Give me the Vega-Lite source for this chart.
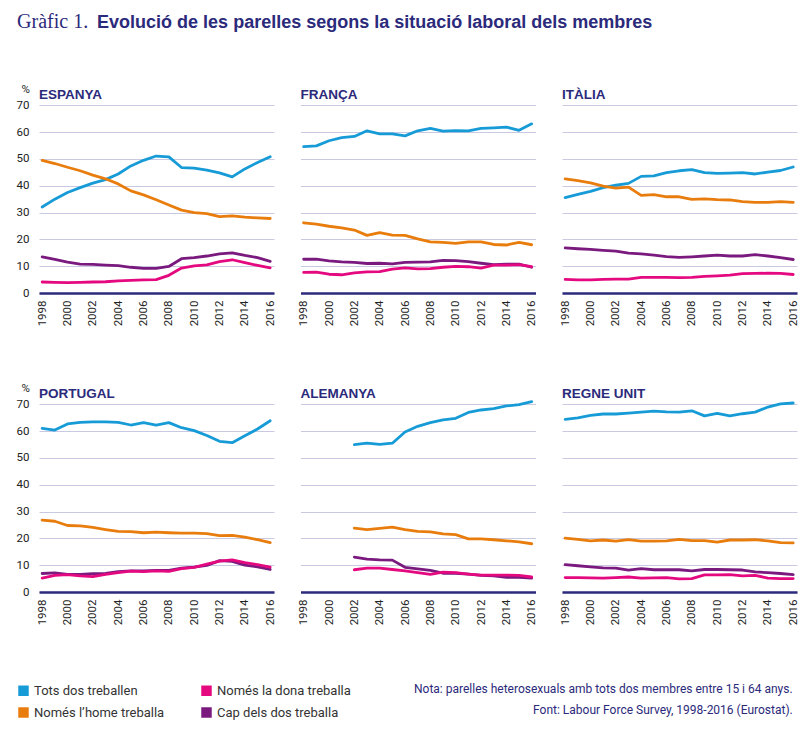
{
  "$schema": "https://vega.github.io/schema/vega-lite/v6.json",
  "padding": {"left": 16, "top": 12, "right": 0, "bottom": 0},
  "background": "white",
  "title": {
    "text": "Gràfic 1.",
    "subtitle": "\u200b\u00a0\u00a0\u00a0\u00a0\u00a0\u00a0\u00a0\u00a0\u00a0\u00a0\u00a0\u00a0\u00a0\u00a0\u00a0\u00a0Evolució de les parelles segons la situació laboral dels membres",
    "anchor": "start",
    "frame": "bounds",
    "dx": 1,
    "dy": -2,
    "offset": 49,
    "font": "Liberation Serif",
    "fontSize": 20,
    "fontWeight": "normal",
    "color": "#2b2a7b",
    "subtitleFont": "Liberation Sans",
    "subtitleFontSize": 18,
    "subtitleFontWeight": "bold",
    "subtitleColor": "#2b2a7b",
    "subtitlePadding": -18.5
  },
  "data": {
    "values": [
      {"pais": "ESPANYA", "any": 1998, "grup": "Tots dos treballen", "pct": 32.1},
      {"pais": "ESPANYA", "any": 1999, "grup": "Tots dos treballen", "pct": 35.0},
      {"pais": "ESPANYA", "any": 2000, "grup": "Tots dos treballen", "pct": 37.5},
      {"pais": "ESPANYA", "any": 2001, "grup": "Tots dos treballen", "pct": 39.3},
      {"pais": "ESPANYA", "any": 2002, "grup": "Tots dos treballen", "pct": 41.0},
      {"pais": "ESPANYA", "any": 2003, "grup": "Tots dos treballen", "pct": 42.3},
      {"pais": "ESPANYA", "any": 2004, "grup": "Tots dos treballen", "pct": 44.4},
      {"pais": "ESPANYA", "any": 2005, "grup": "Tots dos treballen", "pct": 47.4},
      {"pais": "ESPANYA", "any": 2006, "grup": "Tots dos treballen", "pct": 49.5},
      {"pais": "ESPANYA", "any": 2007, "grup": "Tots dos treballen", "pct": 51.1},
      {"pais": "ESPANYA", "any": 2008, "grup": "Tots dos treballen", "pct": 50.8},
      {"pais": "ESPANYA", "any": 2009, "grup": "Tots dos treballen", "pct": 46.8},
      {"pais": "ESPANYA", "any": 2010, "grup": "Tots dos treballen", "pct": 46.6},
      {"pais": "ESPANYA", "any": 2011, "grup": "Tots dos treballen", "pct": 45.8},
      {"pais": "ESPANYA", "any": 2012, "grup": "Tots dos treballen", "pct": 44.8},
      {"pais": "ESPANYA", "any": 2013, "grup": "Tots dos treballen", "pct": 43.3},
      {"pais": "ESPANYA", "any": 2014, "grup": "Tots dos treballen", "pct": 46.3},
      {"pais": "ESPANYA", "any": 2015, "grup": "Tots dos treballen", "pct": 48.7},
      {"pais": "ESPANYA", "any": 2016, "grup": "Tots dos treballen", "pct": 50.8},
      {"pais": "ESPANYA", "any": 1998, "grup": "Només l’home treballa", "pct": 49.5},
      {"pais": "ESPANYA", "any": 1999, "grup": "Només l’home treballa", "pct": 48.3},
      {"pais": "ESPANYA", "any": 2000, "grup": "Només l’home treballa", "pct": 46.9},
      {"pais": "ESPANYA", "any": 2001, "grup": "Només l’home treballa", "pct": 45.6},
      {"pais": "ESPANYA", "any": 2002, "grup": "Només l’home treballa", "pct": 44.0},
      {"pais": "ESPANYA", "any": 2003, "grup": "Només l’home treballa", "pct": 42.6},
      {"pais": "ESPANYA", "any": 2004, "grup": "Només l’home treballa", "pct": 40.7},
      {"pais": "ESPANYA", "any": 2005, "grup": "Només l’home treballa", "pct": 38.1},
      {"pais": "ESPANYA", "any": 2006, "grup": "Només l’home treballa", "pct": 36.6},
      {"pais": "ESPANYA", "any": 2007, "grup": "Només l’home treballa", "pct": 34.8},
      {"pais": "ESPANYA", "any": 2008, "grup": "Només l’home treballa", "pct": 32.8},
      {"pais": "ESPANYA", "any": 2009, "grup": "Només l’home treballa", "pct": 30.9},
      {"pais": "ESPANYA", "any": 2010, "grup": "Només l’home treballa", "pct": 30.0},
      {"pais": "ESPANYA", "any": 2011, "grup": "Només l’home treballa", "pct": 29.6},
      {"pais": "ESPANYA", "any": 2012, "grup": "Només l’home treballa", "pct": 28.5},
      {"pais": "ESPANYA", "any": 2013, "grup": "Només l’home treballa", "pct": 28.8},
      {"pais": "ESPANYA", "any": 2014, "grup": "Només l’home treballa", "pct": 28.3},
      {"pais": "ESPANYA", "any": 2015, "grup": "Només l’home treballa", "pct": 28.0},
      {"pais": "ESPANYA", "any": 2016, "grup": "Només l’home treballa", "pct": 27.8},
      {"pais": "ESPANYA", "any": 1998, "grup": "Cap dels dos treballa", "pct": 13.5},
      {"pais": "ESPANYA", "any": 1999, "grup": "Cap dels dos treballa", "pct": 12.5},
      {"pais": "ESPANYA", "any": 2000, "grup": "Cap dels dos treballa", "pct": 11.5},
      {"pais": "ESPANYA", "any": 2001, "grup": "Cap dels dos treballa", "pct": 10.8},
      {"pais": "ESPANYA", "any": 2002, "grup": "Cap dels dos treballa", "pct": 10.7},
      {"pais": "ESPANYA", "any": 2003, "grup": "Cap dels dos treballa", "pct": 10.4},
      {"pais": "ESPANYA", "any": 2004, "grup": "Cap dels dos treballa", "pct": 10.2},
      {"pais": "ESPANYA", "any": 2005, "grup": "Cap dels dos treballa", "pct": 9.6},
      {"pais": "ESPANYA", "any": 2006, "grup": "Cap dels dos treballa", "pct": 9.2},
      {"pais": "ESPANYA", "any": 2007, "grup": "Cap dels dos treballa", "pct": 9.2},
      {"pais": "ESPANYA", "any": 2008, "grup": "Cap dels dos treballa", "pct": 9.9},
      {"pais": "ESPANYA", "any": 2009, "grup": "Cap dels dos treballa", "pct": 12.8},
      {"pais": "ESPANYA", "any": 2010, "grup": "Cap dels dos treballa", "pct": 13.2},
      {"pais": "ESPANYA", "any": 2011, "grup": "Cap dels dos treballa", "pct": 13.8},
      {"pais": "ESPANYA", "any": 2012, "grup": "Cap dels dos treballa", "pct": 14.6},
      {"pais": "ESPANYA", "any": 2013, "grup": "Cap dels dos treballa", "pct": 15.0},
      {"pais": "ESPANYA", "any": 2014, "grup": "Cap dels dos treballa", "pct": 14.0},
      {"pais": "ESPANYA", "any": 2015, "grup": "Cap dels dos treballa", "pct": 13.2},
      {"pais": "ESPANYA", "any": 2016, "grup": "Cap dels dos treballa", "pct": 11.8},
      {"pais": "ESPANYA", "any": 1998, "grup": "Només la dona treballa", "pct": 4.1},
      {"pais": "ESPANYA", "any": 1999, "grup": "Només la dona treballa", "pct": 4.0},
      {"pais": "ESPANYA", "any": 2000, "grup": "Només la dona treballa", "pct": 3.9},
      {"pais": "ESPANYA", "any": 2001, "grup": "Només la dona treballa", "pct": 4.0},
      {"pais": "ESPANYA", "any": 2002, "grup": "Només la dona treballa", "pct": 4.1},
      {"pais": "ESPANYA", "any": 2003, "grup": "Només la dona treballa", "pct": 4.2},
      {"pais": "ESPANYA", "any": 2004, "grup": "Només la dona treballa", "pct": 4.5},
      {"pais": "ESPANYA", "any": 2005, "grup": "Només la dona treballa", "pct": 4.7},
      {"pais": "ESPANYA", "any": 2006, "grup": "Només la dona treballa", "pct": 4.9},
      {"pais": "ESPANYA", "any": 2007, "grup": "Només la dona treballa", "pct": 5.0},
      {"pais": "ESPANYA", "any": 2008, "grup": "Només la dona treballa", "pct": 6.6},
      {"pais": "ESPANYA", "any": 2009, "grup": "Només la dona treballa", "pct": 9.3},
      {"pais": "ESPANYA", "any": 2010, "grup": "Només la dona treballa", "pct": 10.1},
      {"pais": "ESPANYA", "any": 2011, "grup": "Només la dona treballa", "pct": 10.5},
      {"pais": "ESPANYA", "any": 2012, "grup": "Només la dona treballa", "pct": 11.7},
      {"pais": "ESPANYA", "any": 2013, "grup": "Només la dona treballa", "pct": 12.4},
      {"pais": "ESPANYA", "any": 2014, "grup": "Només la dona treballa", "pct": 11.3},
      {"pais": "ESPANYA", "any": 2015, "grup": "Només la dona treballa", "pct": 10.3},
      {"pais": "ESPANYA", "any": 2016, "grup": "Només la dona treballa", "pct": 9.4},

      {"pais": "FRANÇA", "any": 1998, "grup": "Tots dos treballen", "pct": 54.6},
      {"pais": "FRANÇA", "any": 1999, "grup": "Tots dos treballen", "pct": 54.9},
      {"pais": "FRANÇA", "any": 2000, "grup": "Tots dos treballen", "pct": 56.8},
      {"pais": "FRANÇA", "any": 2001, "grup": "Tots dos treballen", "pct": 58.0},
      {"pais": "FRANÇA", "any": 2002, "grup": "Tots dos treballen", "pct": 58.4},
      {"pais": "FRANÇA", "any": 2003, "grup": "Tots dos treballen", "pct": 60.5},
      {"pais": "FRANÇA", "any": 2004, "grup": "Tots dos treballen", "pct": 59.4},
      {"pais": "FRANÇA", "any": 2005, "grup": "Tots dos treballen", "pct": 59.4},
      {"pais": "FRANÇA", "any": 2006, "grup": "Tots dos treballen", "pct": 58.6},
      {"pais": "FRANÇA", "any": 2007, "grup": "Tots dos treballen", "pct": 60.5},
      {"pais": "FRANÇA", "any": 2008, "grup": "Tots dos treballen", "pct": 61.4},
      {"pais": "FRANÇA", "any": 2009, "grup": "Tots dos treballen", "pct": 60.4},
      {"pais": "FRANÇA", "any": 2010, "grup": "Tots dos treballen", "pct": 60.6},
      {"pais": "FRANÇA", "any": 2011, "grup": "Tots dos treballen", "pct": 60.5},
      {"pais": "FRANÇA", "any": 2012, "grup": "Tots dos treballen", "pct": 61.4},
      {"pais": "FRANÇA", "any": 2013, "grup": "Tots dos treballen", "pct": 61.6},
      {"pais": "FRANÇA", "any": 2014, "grup": "Tots dos treballen", "pct": 61.9},
      {"pais": "FRANÇA", "any": 2015, "grup": "Tots dos treballen", "pct": 60.7},
      {"pais": "FRANÇA", "any": 2016, "grup": "Tots dos treballen", "pct": 63.1},
      {"pais": "FRANÇA", "any": 1998, "grup": "Només l’home treballa", "pct": 26.2},
      {"pais": "FRANÇA", "any": 1999, "grup": "Només l’home treballa", "pct": 25.7},
      {"pais": "FRANÇA", "any": 2000, "grup": "Només l’home treballa", "pct": 24.9},
      {"pais": "FRANÇA", "any": 2001, "grup": "Només l’home treballa", "pct": 24.3},
      {"pais": "FRANÇA", "any": 2002, "grup": "Només l’home treballa", "pct": 23.5},
      {"pais": "FRANÇA", "any": 2003, "grup": "Només l’home treballa", "pct": 21.5},
      {"pais": "FRANÇA", "any": 2004, "grup": "Només l’home treballa", "pct": 22.5},
      {"pais": "FRANÇA", "any": 2005, "grup": "Només l’home treballa", "pct": 21.6},
      {"pais": "FRANÇA", "any": 2006, "grup": "Només l’home treballa", "pct": 21.5},
      {"pais": "FRANÇA", "any": 2007, "grup": "Només l’home treballa", "pct": 20.2},
      {"pais": "FRANÇA", "any": 2008, "grup": "Només l’home treballa", "pct": 19.1},
      {"pais": "FRANÇA", "any": 2009, "grup": "Només l’home treballa", "pct": 18.9},
      {"pais": "FRANÇA", "any": 2010, "grup": "Només l’home treballa", "pct": 18.5},
      {"pais": "FRANÇA", "any": 2011, "grup": "Només l’home treballa", "pct": 19.1},
      {"pais": "FRANÇA", "any": 2012, "grup": "Només l’home treballa", "pct": 19.1},
      {"pais": "FRANÇA", "any": 2013, "grup": "Només l’home treballa", "pct": 18.1},
      {"pais": "FRANÇA", "any": 2014, "grup": "Només l’home treballa", "pct": 17.9},
      {"pais": "FRANÇA", "any": 2015, "grup": "Només l’home treballa", "pct": 18.9},
      {"pais": "FRANÇA", "any": 2016, "grup": "Només l’home treballa", "pct": 18.0},
      {"pais": "FRANÇA", "any": 1998, "grup": "Cap dels dos treballa", "pct": 12.6},
      {"pais": "FRANÇA", "any": 1999, "grup": "Cap dels dos treballa", "pct": 12.6},
      {"pais": "FRANÇA", "any": 2000, "grup": "Cap dels dos treballa", "pct": 12.0},
      {"pais": "FRANÇA", "any": 2001, "grup": "Cap dels dos treballa", "pct": 11.6},
      {"pais": "FRANÇA", "any": 2002, "grup": "Cap dels dos treballa", "pct": 11.4},
      {"pais": "FRANÇA", "any": 2003, "grup": "Cap dels dos treballa", "pct": 11.0},
      {"pais": "FRANÇA", "any": 2004, "grup": "Cap dels dos treballa", "pct": 11.1},
      {"pais": "FRANÇA", "any": 2005, "grup": "Cap dels dos treballa", "pct": 10.9},
      {"pais": "FRANÇA", "any": 2006, "grup": "Cap dels dos treballa", "pct": 11.4},
      {"pais": "FRANÇA", "any": 2007, "grup": "Cap dels dos treballa", "pct": 11.5},
      {"pais": "FRANÇA", "any": 2008, "grup": "Cap dels dos treballa", "pct": 11.6},
      {"pais": "FRANÇA", "any": 2009, "grup": "Cap dels dos treballa", "pct": 12.2},
      {"pais": "FRANÇA", "any": 2010, "grup": "Cap dels dos treballa", "pct": 12.1},
      {"pais": "FRANÇA", "any": 2011, "grup": "Cap dels dos treballa", "pct": 11.7},
      {"pais": "FRANÇA", "any": 2012, "grup": "Cap dels dos treballa", "pct": 11.1},
      {"pais": "FRANÇA", "any": 2013, "grup": "Cap dels dos treballa", "pct": 10.6},
      {"pais": "FRANÇA", "any": 2014, "grup": "Cap dels dos treballa", "pct": 10.8},
      {"pais": "FRANÇA", "any": 2015, "grup": "Cap dels dos treballa", "pct": 10.8},
      {"pais": "FRANÇA", "any": 2016, "grup": "Cap dels dos treballa", "pct": 9.6},
      {"pais": "FRANÇA", "any": 1998, "grup": "Només la dona treballa", "pct": 7.7},
      {"pais": "FRANÇA", "any": 1999, "grup": "Només la dona treballa", "pct": 7.8},
      {"pais": "FRANÇA", "any": 2000, "grup": "Només la dona treballa", "pct": 7.0},
      {"pais": "FRANÇA", "any": 2001, "grup": "Només la dona treballa", "pct": 6.8},
      {"pais": "FRANÇA", "any": 2002, "grup": "Només la dona treballa", "pct": 7.5},
      {"pais": "FRANÇA", "any": 2003, "grup": "Només la dona treballa", "pct": 7.9},
      {"pais": "FRANÇA", "any": 2004, "grup": "Només la dona treballa", "pct": 8.0},
      {"pais": "FRANÇA", "any": 2005, "grup": "Només la dona treballa", "pct": 8.9},
      {"pais": "FRANÇA", "any": 2006, "grup": "Només la dona treballa", "pct": 9.4},
      {"pais": "FRANÇA", "any": 2007, "grup": "Només la dona treballa", "pct": 9.0},
      {"pais": "FRANÇA", "any": 2008, "grup": "Només la dona treballa", "pct": 9.1},
      {"pais": "FRANÇA", "any": 2009, "grup": "Només la dona treballa", "pct": 9.6},
      {"pais": "FRANÇA", "any": 2010, "grup": "Només la dona treballa", "pct": 9.9},
      {"pais": "FRANÇA", "any": 2011, "grup": "Només la dona treballa", "pct": 9.8},
      {"pais": "FRANÇA", "any": 2012, "grup": "Només la dona treballa", "pct": 9.3},
      {"pais": "FRANÇA", "any": 2013, "grup": "Només la dona treballa", "pct": 10.4},
      {"pais": "FRANÇA", "any": 2014, "grup": "Només la dona treballa", "pct": 10.4},
      {"pais": "FRANÇA", "any": 2015, "grup": "Només la dona treballa", "pct": 10.6},
      {"pais": "FRANÇA", "any": 2016, "grup": "Només la dona treballa", "pct": 9.8},

      {"pais": "ITÀLIA", "any": 1998, "grup": "Tots dos treballen", "pct": 35.6},
      {"pais": "ITÀLIA", "any": 1999, "grup": "Tots dos treballen", "pct": 36.8},
      {"pais": "ITÀLIA", "any": 2000, "grup": "Tots dos treballen", "pct": 37.9},
      {"pais": "ITÀLIA", "any": 2001, "grup": "Tots dos treballen", "pct": 39.3},
      {"pais": "ITÀLIA", "any": 2002, "grup": "Tots dos treballen", "pct": 40.2},
      {"pais": "ITÀLIA", "any": 2003, "grup": "Tots dos treballen", "pct": 40.9},
      {"pais": "ITÀLIA", "any": 2004, "grup": "Tots dos treballen", "pct": 43.5},
      {"pais": "ITÀLIA", "any": 2005, "grup": "Tots dos treballen", "pct": 43.7},
      {"pais": "ITÀLIA", "any": 2006, "grup": "Tots dos treballen", "pct": 44.9},
      {"pais": "ITÀLIA", "any": 2007, "grup": "Tots dos treballen", "pct": 45.6},
      {"pais": "ITÀLIA", "any": 2008, "grup": "Tots dos treballen", "pct": 46.0},
      {"pais": "ITÀLIA", "any": 2009, "grup": "Tots dos treballen", "pct": 44.9},
      {"pais": "ITÀLIA", "any": 2010, "grup": "Tots dos treballen", "pct": 44.6},
      {"pais": "ITÀLIA", "any": 2011, "grup": "Tots dos treballen", "pct": 44.7},
      {"pais": "ITÀLIA", "any": 2012, "grup": "Tots dos treballen", "pct": 44.9},
      {"pais": "ITÀLIA", "any": 2013, "grup": "Tots dos treballen", "pct": 44.4},
      {"pais": "ITÀLIA", "any": 2014, "grup": "Tots dos treballen", "pct": 45.1},
      {"pais": "ITÀLIA", "any": 2015, "grup": "Tots dos treballen", "pct": 45.7},
      {"pais": "ITÀLIA", "any": 2016, "grup": "Tots dos treballen", "pct": 47.0},
      {"pais": "ITÀLIA", "any": 1998, "grup": "Només l’home treballa", "pct": 42.6},
      {"pais": "ITÀLIA", "any": 1999, "grup": "Només l’home treballa", "pct": 41.9},
      {"pais": "ITÀLIA", "any": 2000, "grup": "Només l’home treballa", "pct": 41.1},
      {"pais": "ITÀLIA", "any": 2001, "grup": "Només l’home treballa", "pct": 39.9},
      {"pais": "ITÀLIA", "any": 2002, "grup": "Només l’home treballa", "pct": 39.1},
      {"pais": "ITÀLIA", "any": 2003, "grup": "Només l’home treballa", "pct": 39.5},
      {"pais": "ITÀLIA", "any": 2004, "grup": "Només l’home treballa", "pct": 36.4},
      {"pais": "ITÀLIA", "any": 2005, "grup": "Només l’home treballa", "pct": 36.7},
      {"pais": "ITÀLIA", "any": 2006, "grup": "Només l’home treballa", "pct": 35.9},
      {"pais": "ITÀLIA", "any": 2007, "grup": "Només l’home treballa", "pct": 35.9},
      {"pais": "ITÀLIA", "any": 2008, "grup": "Només l’home treballa", "pct": 34.9},
      {"pais": "ITÀLIA", "any": 2009, "grup": "Només l’home treballa", "pct": 35.1},
      {"pais": "ITÀLIA", "any": 2010, "grup": "Només l’home treballa", "pct": 34.8},
      {"pais": "ITÀLIA", "any": 2011, "grup": "Només l’home treballa", "pct": 34.7},
      {"pais": "ITÀLIA", "any": 2012, "grup": "Només l’home treballa", "pct": 34.1},
      {"pais": "ITÀLIA", "any": 2013, "grup": "Només l’home treballa", "pct": 33.8},
      {"pais": "ITÀLIA", "any": 2014, "grup": "Només l’home treballa", "pct": 33.8},
      {"pais": "ITÀLIA", "any": 2015, "grup": "Només l’home treballa", "pct": 34.1},
      {"pais": "ITÀLIA", "any": 2016, "grup": "Només l’home treballa", "pct": 33.8},
      {"pais": "ITÀLIA", "any": 1998, "grup": "Cap dels dos treballa", "pct": 16.8},
      {"pais": "ITÀLIA", "any": 1999, "grup": "Cap dels dos treballa", "pct": 16.5},
      {"pais": "ITÀLIA", "any": 2000, "grup": "Cap dels dos treballa", "pct": 16.3},
      {"pais": "ITÀLIA", "any": 2001, "grup": "Cap dels dos treballa", "pct": 15.9},
      {"pais": "ITÀLIA", "any": 2002, "grup": "Cap dels dos treballa", "pct": 15.6},
      {"pais": "ITÀLIA", "any": 2003, "grup": "Cap dels dos treballa", "pct": 14.9},
      {"pais": "ITÀLIA", "any": 2004, "grup": "Cap dels dos treballa", "pct": 14.6},
      {"pais": "ITÀLIA", "any": 2005, "grup": "Cap dels dos treballa", "pct": 14.1},
      {"pais": "ITÀLIA", "any": 2006, "grup": "Cap dels dos treballa", "pct": 13.6},
      {"pais": "ITÀLIA", "any": 2007, "grup": "Cap dels dos treballa", "pct": 13.3},
      {"pais": "ITÀLIA", "any": 2008, "grup": "Cap dels dos treballa", "pct": 13.5},
      {"pais": "ITÀLIA", "any": 2009, "grup": "Cap dels dos treballa", "pct": 13.8},
      {"pais": "ITÀLIA", "any": 2010, "grup": "Cap dels dos treballa", "pct": 14.1},
      {"pais": "ITÀLIA", "any": 2011, "grup": "Cap dels dos treballa", "pct": 13.8},
      {"pais": "ITÀLIA", "any": 2012, "grup": "Cap dels dos treballa", "pct": 13.8},
      {"pais": "ITÀLIA", "any": 2013, "grup": "Cap dels dos treballa", "pct": 14.3},
      {"pais": "ITÀLIA", "any": 2014, "grup": "Cap dels dos treballa", "pct": 13.8},
      {"pais": "ITÀLIA", "any": 2015, "grup": "Cap dels dos treballa", "pct": 13.2},
      {"pais": "ITÀLIA", "any": 2016, "grup": "Cap dels dos treballa", "pct": 12.5},
      {"pais": "ITÀLIA", "any": 1998, "grup": "Només la dona treballa", "pct": 5.1},
      {"pais": "ITÀLIA", "any": 1999, "grup": "Només la dona treballa", "pct": 4.9},
      {"pais": "ITÀLIA", "any": 2000, "grup": "Només la dona treballa", "pct": 4.9},
      {"pais": "ITÀLIA", "any": 2001, "grup": "Només la dona treballa", "pct": 5.1},
      {"pais": "ITÀLIA", "any": 2002, "grup": "Només la dona treballa", "pct": 5.2},
      {"pais": "ITÀLIA", "any": 2003, "grup": "Només la dona treballa", "pct": 5.2},
      {"pais": "ITÀLIA", "any": 2004, "grup": "Només la dona treballa", "pct": 5.8},
      {"pais": "ITÀLIA", "any": 2005, "grup": "Només la dona treballa", "pct": 5.8},
      {"pais": "ITÀLIA", "any": 2006, "grup": "Només la dona treballa", "pct": 5.8},
      {"pais": "ITÀLIA", "any": 2007, "grup": "Només la dona treballa", "pct": 5.7},
      {"pais": "ITÀLIA", "any": 2008, "grup": "Només la dona treballa", "pct": 5.8},
      {"pais": "ITÀLIA", "any": 2009, "grup": "Només la dona treballa", "pct": 6.2},
      {"pais": "ITÀLIA", "any": 2010, "grup": "Només la dona treballa", "pct": 6.4},
      {"pais": "ITÀLIA", "any": 2011, "grup": "Només la dona treballa", "pct": 6.7},
      {"pais": "ITÀLIA", "any": 2012, "grup": "Només la dona treballa", "pct": 7.2},
      {"pais": "ITÀLIA", "any": 2013, "grup": "Només la dona treballa", "pct": 7.3},
      {"pais": "ITÀLIA", "any": 2014, "grup": "Només la dona treballa", "pct": 7.4},
      {"pais": "ITÀLIA", "any": 2015, "grup": "Només la dona treballa", "pct": 7.3},
      {"pais": "ITÀLIA", "any": 2016, "grup": "Només la dona treballa", "pct": 6.9},

      {"pais": "PORTUGAL", "any": 1998, "grup": "Tots dos treballen", "pct": 61.0},
      {"pais": "PORTUGAL", "any": 1999, "grup": "Tots dos treballen", "pct": 60.4},
      {"pais": "PORTUGAL", "any": 2000, "grup": "Tots dos treballen", "pct": 62.7},
      {"pais": "PORTUGAL", "any": 2001, "grup": "Tots dos treballen", "pct": 63.3},
      {"pais": "PORTUGAL", "any": 2002, "grup": "Tots dos treballen", "pct": 63.5},
      {"pais": "PORTUGAL", "any": 2003, "grup": "Tots dos treballen", "pct": 63.5},
      {"pais": "PORTUGAL", "any": 2004, "grup": "Tots dos treballen", "pct": 63.3},
      {"pais": "PORTUGAL", "any": 2005, "grup": "Tots dos treballen", "pct": 62.3},
      {"pais": "PORTUGAL", "any": 2006, "grup": "Tots dos treballen", "pct": 63.2},
      {"pais": "PORTUGAL", "any": 2007, "grup": "Tots dos treballen", "pct": 62.3},
      {"pais": "PORTUGAL", "any": 2008, "grup": "Tots dos treballen", "pct": 63.2},
      {"pais": "PORTUGAL", "any": 2009, "grup": "Tots dos treballen", "pct": 61.3},
      {"pais": "PORTUGAL", "any": 2010, "grup": "Tots dos treballen", "pct": 60.2},
      {"pais": "PORTUGAL", "any": 2011, "grup": "Tots dos treballen", "pct": 58.4},
      {"pais": "PORTUGAL", "any": 2012, "grup": "Tots dos treballen", "pct": 56.2},
      {"pais": "PORTUGAL", "any": 2013, "grup": "Tots dos treballen", "pct": 55.7},
      {"pais": "PORTUGAL", "any": 2014, "grup": "Tots dos treballen", "pct": 58.3},
      {"pais": "PORTUGAL", "any": 2015, "grup": "Tots dos treballen", "pct": 60.8},
      {"pais": "PORTUGAL", "any": 2016, "grup": "Tots dos treballen", "pct": 63.9},
      {"pais": "PORTUGAL", "any": 1998, "grup": "Només l’home treballa", "pct": 26.8},
      {"pais": "PORTUGAL", "any": 1999, "grup": "Només l’home treballa", "pct": 26.4},
      {"pais": "PORTUGAL", "any": 2000, "grup": "Només l’home treballa", "pct": 24.8},
      {"pais": "PORTUGAL", "any": 2001, "grup": "Només l’home treballa", "pct": 24.7},
      {"pais": "PORTUGAL", "any": 2002, "grup": "Només l’home treballa", "pct": 24.1},
      {"pais": "PORTUGAL", "any": 2003, "grup": "Només l’home treballa", "pct": 23.3},
      {"pais": "PORTUGAL", "any": 2004, "grup": "Només l’home treballa", "pct": 22.6},
      {"pais": "PORTUGAL", "any": 2005, "grup": "Només l’home treballa", "pct": 22.5},
      {"pais": "PORTUGAL", "any": 2006, "grup": "Només l’home treballa", "pct": 22.1},
      {"pais": "PORTUGAL", "any": 2007, "grup": "Només l’home treballa", "pct": 22.3},
      {"pais": "PORTUGAL", "any": 2008, "grup": "Només l’home treballa", "pct": 22.1},
      {"pais": "PORTUGAL", "any": 2009, "grup": "Només l’home treballa", "pct": 22.0},
      {"pais": "PORTUGAL", "any": 2010, "grup": "Només l’home treballa", "pct": 22.0},
      {"pais": "PORTUGAL", "any": 2011, "grup": "Només l’home treballa", "pct": 21.8},
      {"pais": "PORTUGAL", "any": 2012, "grup": "Només l’home treballa", "pct": 21.0},
      {"pais": "PORTUGAL", "any": 2013, "grup": "Només l’home treballa", "pct": 21.1},
      {"pais": "PORTUGAL", "any": 2014, "grup": "Només l’home treballa", "pct": 20.5},
      {"pais": "PORTUGAL", "any": 2015, "grup": "Només l’home treballa", "pct": 19.5},
      {"pais": "PORTUGAL", "any": 2016, "grup": "Només l’home treballa", "pct": 18.4},
      {"pais": "PORTUGAL", "any": 1998, "grup": "Cap dels dos treballa", "pct": 6.9},
      {"pais": "PORTUGAL", "any": 1999, "grup": "Cap dels dos treballa", "pct": 7.1},
      {"pais": "PORTUGAL", "any": 2000, "grup": "Cap dels dos treballa", "pct": 6.6},
      {"pais": "PORTUGAL", "any": 2001, "grup": "Cap dels dos treballa", "pct": 6.6},
      {"pais": "PORTUGAL", "any": 2002, "grup": "Cap dels dos treballa", "pct": 6.8},
      {"pais": "PORTUGAL", "any": 2003, "grup": "Cap dels dos treballa", "pct": 6.9},
      {"pais": "PORTUGAL", "any": 2004, "grup": "Cap dels dos treballa", "pct": 7.6},
      {"pais": "PORTUGAL", "any": 2005, "grup": "Cap dels dos treballa", "pct": 7.9},
      {"pais": "PORTUGAL", "any": 2006, "grup": "Cap dels dos treballa", "pct": 7.9},
      {"pais": "PORTUGAL", "any": 2007, "grup": "Cap dels dos treballa", "pct": 8.1},
      {"pais": "PORTUGAL", "any": 2008, "grup": "Cap dels dos treballa", "pct": 8.1},
      {"pais": "PORTUGAL", "any": 2009, "grup": "Cap dels dos treballa", "pct": 8.9},
      {"pais": "PORTUGAL", "any": 2010, "grup": "Cap dels dos treballa", "pct": 9.3},
      {"pais": "PORTUGAL", "any": 2011, "grup": "Cap dels dos treballa", "pct": 9.9},
      {"pais": "PORTUGAL", "any": 2012, "grup": "Cap dels dos treballa", "pct": 11.7},
      {"pais": "PORTUGAL", "any": 2013, "grup": "Cap dels dos treballa", "pct": 11.4},
      {"pais": "PORTUGAL", "any": 2014, "grup": "Cap dels dos treballa", "pct": 10.0},
      {"pais": "PORTUGAL", "any": 2015, "grup": "Cap dels dos treballa", "pct": 9.4},
      {"pais": "PORTUGAL", "any": 2016, "grup": "Cap dels dos treballa", "pct": 8.4},
      {"pais": "PORTUGAL", "any": 1998, "grup": "Només la dona treballa", "pct": 5.2},
      {"pais": "PORTUGAL", "any": 1999, "grup": "Només la dona treballa", "pct": 6.2},
      {"pais": "PORTUGAL", "any": 2000, "grup": "Només la dona treballa", "pct": 6.5},
      {"pais": "PORTUGAL", "any": 2001, "grup": "Només la dona treballa", "pct": 6.0},
      {"pais": "PORTUGAL", "any": 2002, "grup": "Només la dona treballa", "pct": 5.7},
      {"pais": "PORTUGAL", "any": 2003, "grup": "Només la dona treballa", "pct": 6.6},
      {"pais": "PORTUGAL", "any": 2004, "grup": "Només la dona treballa", "pct": 7.2},
      {"pais": "PORTUGAL", "any": 2005, "grup": "Només la dona treballa", "pct": 7.8},
      {"pais": "PORTUGAL", "any": 2006, "grup": "Només la dona treballa", "pct": 7.6},
      {"pais": "PORTUGAL", "any": 2007, "grup": "Només la dona treballa", "pct": 7.9},
      {"pais": "PORTUGAL", "any": 2008, "grup": "Només la dona treballa", "pct": 7.7},
      {"pais": "PORTUGAL", "any": 2009, "grup": "Només la dona treballa", "pct": 8.7},
      {"pais": "PORTUGAL", "any": 2010, "grup": "Només la dona treballa", "pct": 9.2},
      {"pais": "PORTUGAL", "any": 2011, "grup": "Només la dona treballa", "pct": 10.4},
      {"pais": "PORTUGAL", "any": 2012, "grup": "Només la dona treballa", "pct": 11.5},
      {"pais": "PORTUGAL", "any": 2013, "grup": "Només la dona treballa", "pct": 12.0},
      {"pais": "PORTUGAL", "any": 2014, "grup": "Només la dona treballa", "pct": 11.0},
      {"pais": "PORTUGAL", "any": 2015, "grup": "Només la dona treballa", "pct": 10.2},
      {"pais": "PORTUGAL", "any": 2016, "grup": "Només la dona treballa", "pct": 9.3},

      {"pais": "ALEMANYA", "any": 2002, "grup": "Tots dos treballen", "pct": 55.0},
      {"pais": "ALEMANYA", "any": 2003, "grup": "Tots dos treballen", "pct": 55.5},
      {"pais": "ALEMANYA", "any": 2004, "grup": "Tots dos treballen", "pct": 55.1},
      {"pais": "ALEMANYA", "any": 2005, "grup": "Tots dos treballen", "pct": 55.5},
      {"pais": "ALEMANYA", "any": 2006, "grup": "Tots dos treballen", "pct": 59.7},
      {"pais": "ALEMANYA", "any": 2007, "grup": "Tots dos treballen", "pct": 61.8},
      {"pais": "ALEMANYA", "any": 2008, "grup": "Tots dos treballen", "pct": 63.2},
      {"pais": "ALEMANYA", "any": 2009, "grup": "Tots dos treballen", "pct": 64.2},
      {"pais": "ALEMANYA", "any": 2010, "grup": "Tots dos treballen", "pct": 64.8},
      {"pais": "ALEMANYA", "any": 2011, "grup": "Tots dos treballen", "pct": 67.0},
      {"pais": "ALEMANYA", "any": 2012, "grup": "Tots dos treballen", "pct": 67.9},
      {"pais": "ALEMANYA", "any": 2013, "grup": "Tots dos treballen", "pct": 68.4},
      {"pais": "ALEMANYA", "any": 2014, "grup": "Tots dos treballen", "pct": 69.4},
      {"pais": "ALEMANYA", "any": 2015, "grup": "Tots dos treballen", "pct": 69.9},
      {"pais": "ALEMANYA", "any": 2016, "grup": "Tots dos treballen", "pct": 71.0},
      {"pais": "ALEMANYA", "any": 2002, "grup": "Només l’home treballa", "pct": 23.8},
      {"pais": "ALEMANYA", "any": 2003, "grup": "Només l’home treballa", "pct": 23.3},
      {"pais": "ALEMANYA", "any": 2004, "grup": "Només l’home treballa", "pct": 23.7},
      {"pais": "ALEMANYA", "any": 2005, "grup": "Només l’home treballa", "pct": 24.2},
      {"pais": "ALEMANYA", "any": 2006, "grup": "Només l’home treballa", "pct": 23.3},
      {"pais": "ALEMANYA", "any": 2007, "grup": "Només l’home treballa", "pct": 22.6},
      {"pais": "ALEMANYA", "any": 2008, "grup": "Només l’home treballa", "pct": 22.4},
      {"pais": "ALEMANYA", "any": 2009, "grup": "Només l’home treballa", "pct": 21.7},
      {"pais": "ALEMANYA", "any": 2010, "grup": "Només l’home treballa", "pct": 21.4},
      {"pais": "ALEMANYA", "any": 2011, "grup": "Només l’home treballa", "pct": 19.8},
      {"pais": "ALEMANYA", "any": 2012, "grup": "Només l’home treballa", "pct": 19.8},
      {"pais": "ALEMANYA", "any": 2013, "grup": "Només l’home treballa", "pct": 19.5},
      {"pais": "ALEMANYA", "any": 2014, "grup": "Només l’home treballa", "pct": 19.1},
      {"pais": "ALEMANYA", "any": 2015, "grup": "Només l’home treballa", "pct": 18.7},
      {"pais": "ALEMANYA", "any": 2016, "grup": "Només l’home treballa", "pct": 18.0},
      {"pais": "ALEMANYA", "any": 2002, "grup": "Cap dels dos treballa", "pct": 13.0},
      {"pais": "ALEMANYA", "any": 2003, "grup": "Cap dels dos treballa", "pct": 12.3},
      {"pais": "ALEMANYA", "any": 2004, "grup": "Cap dels dos treballa", "pct": 12.0},
      {"pais": "ALEMANYA", "any": 2005, "grup": "Cap dels dos treballa", "pct": 11.9},
      {"pais": "ALEMANYA", "any": 2006, "grup": "Cap dels dos treballa", "pct": 9.2},
      {"pais": "ALEMANYA", "any": 2007, "grup": "Cap dels dos treballa", "pct": 8.6},
      {"pais": "ALEMANYA", "any": 2008, "grup": "Cap dels dos treballa", "pct": 8.1},
      {"pais": "ALEMANYA", "any": 2009, "grup": "Cap dels dos treballa", "pct": 7.0},
      {"pais": "ALEMANYA", "any": 2010, "grup": "Cap dels dos treballa", "pct": 7.0},
      {"pais": "ALEMANYA", "any": 2011, "grup": "Cap dels dos treballa", "pct": 6.7},
      {"pais": "ALEMANYA", "any": 2012, "grup": "Cap dels dos treballa", "pct": 6.2},
      {"pais": "ALEMANYA", "any": 2013, "grup": "Cap dels dos treballa", "pct": 6.0},
      {"pais": "ALEMANYA", "any": 2014, "grup": "Cap dels dos treballa", "pct": 5.5},
      {"pais": "ALEMANYA", "any": 2015, "grup": "Cap dels dos treballa", "pct": 5.5},
      {"pais": "ALEMANYA", "any": 2016, "grup": "Cap dels dos treballa", "pct": 5.2},
      {"pais": "ALEMANYA", "any": 2002, "grup": "Només la dona treballa", "pct": 8.3},
      {"pais": "ALEMANYA", "any": 2003, "grup": "Només la dona treballa", "pct": 8.9},
      {"pais": "ALEMANYA", "any": 2004, "grup": "Només la dona treballa", "pct": 8.9},
      {"pais": "ALEMANYA", "any": 2005, "grup": "Només la dona treballa", "pct": 8.4},
      {"pais": "ALEMANYA", "any": 2006, "grup": "Només la dona treballa", "pct": 7.9},
      {"pais": "ALEMANYA", "any": 2007, "grup": "Només la dona treballa", "pct": 7.2},
      {"pais": "ALEMANYA", "any": 2008, "grup": "Només la dona treballa", "pct": 6.6},
      {"pais": "ALEMANYA", "any": 2009, "grup": "Només la dona treballa", "pct": 7.4},
      {"pais": "ALEMANYA", "any": 2010, "grup": "Només la dona treballa", "pct": 7.2},
      {"pais": "ALEMANYA", "any": 2011, "grup": "Només la dona treballa", "pct": 6.7},
      {"pais": "ALEMANYA", "any": 2012, "grup": "Només la dona treballa", "pct": 6.3},
      {"pais": "ALEMANYA", "any": 2013, "grup": "Només la dona treballa", "pct": 6.3},
      {"pais": "ALEMANYA", "any": 2014, "grup": "Només la dona treballa", "pct": 6.3},
      {"pais": "ALEMANYA", "any": 2015, "grup": "Només la dona treballa", "pct": 6.2},
      {"pais": "ALEMANYA", "any": 2016, "grup": "Només la dona treballa", "pct": 5.6},

      {"pais": "REGNE UNIT", "any": 1998, "grup": "Tots dos treballen", "pct": 64.4},
      {"pais": "REGNE UNIT", "any": 1999, "grup": "Tots dos treballen", "pct": 65.0},
      {"pais": "REGNE UNIT", "any": 2000, "grup": "Tots dos treballen", "pct": 65.9},
      {"pais": "REGNE UNIT", "any": 2001, "grup": "Tots dos treballen", "pct": 66.4},
      {"pais": "REGNE UNIT", "any": 2002, "grup": "Tots dos treballen", "pct": 66.4},
      {"pais": "REGNE UNIT", "any": 2003, "grup": "Tots dos treballen", "pct": 66.7},
      {"pais": "REGNE UNIT", "any": 2004, "grup": "Tots dos treballen", "pct": 67.1},
      {"pais": "REGNE UNIT", "any": 2005, "grup": "Tots dos treballen", "pct": 67.5},
      {"pais": "REGNE UNIT", "any": 2006, "grup": "Tots dos treballen", "pct": 67.2},
      {"pais": "REGNE UNIT", "any": 2007, "grup": "Tots dos treballen", "pct": 67.1},
      {"pais": "REGNE UNIT", "any": 2008, "grup": "Tots dos treballen", "pct": 67.6},
      {"pais": "REGNE UNIT", "any": 2009, "grup": "Tots dos treballen", "pct": 65.7},
      {"pais": "REGNE UNIT", "any": 2010, "grup": "Tots dos treballen", "pct": 66.6},
      {"pais": "REGNE UNIT", "any": 2011, "grup": "Tots dos treballen", "pct": 65.7},
      {"pais": "REGNE UNIT", "any": 2012, "grup": "Tots dos treballen", "pct": 66.5},
      {"pais": "REGNE UNIT", "any": 2013, "grup": "Tots dos treballen", "pct": 67.1},
      {"pais": "REGNE UNIT", "any": 2014, "grup": "Tots dos treballen", "pct": 69.0},
      {"pais": "REGNE UNIT", "any": 2015, "grup": "Tots dos treballen", "pct": 70.2},
      {"pais": "REGNE UNIT", "any": 2016, "grup": "Tots dos treballen", "pct": 70.5},
      {"pais": "REGNE UNIT", "any": 1998, "grup": "Només l’home treballa", "pct": 20.1},
      {"pais": "REGNE UNIT", "any": 1999, "grup": "Només l’home treballa", "pct": 19.6},
      {"pais": "REGNE UNIT", "any": 2000, "grup": "Només l’home treballa", "pct": 19.1},
      {"pais": "REGNE UNIT", "any": 2001, "grup": "Només l’home treballa", "pct": 19.4},
      {"pais": "REGNE UNIT", "any": 2002, "grup": "Només l’home treballa", "pct": 19.0},
      {"pais": "REGNE UNIT", "any": 2003, "grup": "Només l’home treballa", "pct": 19.5},
      {"pais": "REGNE UNIT", "any": 2004, "grup": "Només l’home treballa", "pct": 19.0},
      {"pais": "REGNE UNIT", "any": 2005, "grup": "Només l’home treballa", "pct": 19.0},
      {"pais": "REGNE UNIT", "any": 2006, "grup": "Només l’home treballa", "pct": 19.1},
      {"pais": "REGNE UNIT", "any": 2007, "grup": "Només l’home treballa", "pct": 19.6},
      {"pais": "REGNE UNIT", "any": 2008, "grup": "Només l’home treballa", "pct": 19.2},
      {"pais": "REGNE UNIT", "any": 2009, "grup": "Només l’home treballa", "pct": 19.2},
      {"pais": "REGNE UNIT", "any": 2010, "grup": "Només l’home treballa", "pct": 18.6},
      {"pais": "REGNE UNIT", "any": 2011, "grup": "Només l’home treballa", "pct": 19.4},
      {"pais": "REGNE UNIT", "any": 2012, "grup": "Només l’home treballa", "pct": 19.4},
      {"pais": "REGNE UNIT", "any": 2013, "grup": "Només l’home treballa", "pct": 19.5},
      {"pais": "REGNE UNIT", "any": 2014, "grup": "Només l’home treballa", "pct": 19.1},
      {"pais": "REGNE UNIT", "any": 2015, "grup": "Només l’home treballa", "pct": 18.4},
      {"pais": "REGNE UNIT", "any": 2016, "grup": "Només l’home treballa", "pct": 18.3},
      {"pais": "REGNE UNIT", "any": 1998, "grup": "Cap dels dos treballa", "pct": 10.2},
      {"pais": "REGNE UNIT", "any": 1999, "grup": "Cap dels dos treballa", "pct": 9.8},
      {"pais": "REGNE UNIT", "any": 2000, "grup": "Cap dels dos treballa", "pct": 9.4},
      {"pais": "REGNE UNIT", "any": 2001, "grup": "Cap dels dos treballa", "pct": 9.0},
      {"pais": "REGNE UNIT", "any": 2002, "grup": "Cap dels dos treballa", "pct": 8.9},
      {"pais": "REGNE UNIT", "any": 2003, "grup": "Cap dels dos treballa", "pct": 8.2},
      {"pais": "REGNE UNIT", "any": 2004, "grup": "Cap dels dos treballa", "pct": 8.7},
      {"pais": "REGNE UNIT", "any": 2005, "grup": "Cap dels dos treballa", "pct": 8.3},
      {"pais": "REGNE UNIT", "any": 2006, "grup": "Cap dels dos treballa", "pct": 8.3},
      {"pais": "REGNE UNIT", "any": 2007, "grup": "Cap dels dos treballa", "pct": 8.3},
      {"pais": "REGNE UNIT", "any": 2008, "grup": "Cap dels dos treballa", "pct": 7.9},
      {"pais": "REGNE UNIT", "any": 2009, "grup": "Cap dels dos treballa", "pct": 8.4},
      {"pais": "REGNE UNIT", "any": 2010, "grup": "Cap dels dos treballa", "pct": 8.4},
      {"pais": "REGNE UNIT", "any": 2011, "grup": "Cap dels dos treballa", "pct": 8.3},
      {"pais": "REGNE UNIT", "any": 2012, "grup": "Cap dels dos treballa", "pct": 8.2},
      {"pais": "REGNE UNIT", "any": 2013, "grup": "Cap dels dos treballa", "pct": 7.5},
      {"pais": "REGNE UNIT", "any": 2014, "grup": "Cap dels dos treballa", "pct": 7.2},
      {"pais": "REGNE UNIT", "any": 2015, "grup": "Cap dels dos treballa", "pct": 6.9},
      {"pais": "REGNE UNIT", "any": 2016, "grup": "Cap dels dos treballa", "pct": 6.5},
      {"pais": "REGNE UNIT", "any": 1998, "grup": "Només la dona treballa", "pct": 5.4},
      {"pais": "REGNE UNIT", "any": 1999, "grup": "Només la dona treballa", "pct": 5.4},
      {"pais": "REGNE UNIT", "any": 2000, "grup": "Només la dona treballa", "pct": 5.3},
      {"pais": "REGNE UNIT", "any": 2001, "grup": "Només la dona treballa", "pct": 5.2},
      {"pais": "REGNE UNIT", "any": 2002, "grup": "Només la dona treballa", "pct": 5.4},
      {"pais": "REGNE UNIT", "any": 2003, "grup": "Només la dona treballa", "pct": 5.6},
      {"pais": "REGNE UNIT", "any": 2004, "grup": "Només la dona treballa", "pct": 5.2},
      {"pais": "REGNE UNIT", "any": 2005, "grup": "Només la dona treballa", "pct": 5.3},
      {"pais": "REGNE UNIT", "any": 2006, "grup": "Només la dona treballa", "pct": 5.4},
      {"pais": "REGNE UNIT", "any": 2007, "grup": "Només la dona treballa", "pct": 4.9},
      {"pais": "REGNE UNIT", "any": 2008, "grup": "Només la dona treballa", "pct": 5.0},
      {"pais": "REGNE UNIT", "any": 2009, "grup": "Només la dona treballa", "pct": 6.4},
      {"pais": "REGNE UNIT", "any": 2010, "grup": "Només la dona treballa", "pct": 6.4},
      {"pais": "REGNE UNIT", "any": 2011, "grup": "Només la dona treballa", "pct": 6.5},
      {"pais": "REGNE UNIT", "any": 2012, "grup": "Només la dona treballa", "pct": 6.0},
      {"pais": "REGNE UNIT", "any": 2013, "grup": "Només la dona treballa", "pct": 6.2},
      {"pais": "REGNE UNIT", "any": 2014, "grup": "Només la dona treballa", "pct": 5.2},
      {"pais": "REGNE UNIT", "any": 2015, "grup": "Només la dona treballa", "pct": 5.0},
      {"pais": "REGNE UNIT", "any": 2016, "grup": "Només la dona treballa", "pct": 5.0}
    ]
  },
  "facet": {
    "field": "pais",
    "type": "nominal",
    "sort": ["ESPANYA", "FRANÇA", "ITÀLIA", "PORTUGAL", "ALEMANYA", "REGNE UNIT"],
    "header": {
      "title": null,
      "labelAnchor": "start",
      "labelAlign": "left",
      "labelFont": "Liberation Sans",
      "labelFontSize": 13.5,
      "labelFontWeight": "bold",
      "labelColor": "#2b2a7b",
      "labelPadding": -1
    }
  },
  "columns": 3,
  "spacing": {"column": 21.5, "row": 60},
  "resolve": {"axis": {"x": "independent"}},
  "spec": {
    "width": 235,
    "height": 193,
    "mark": {"type": "line", "strokeWidth": 2.8, "strokeCap": "round", "strokeJoin": "round"},
    "encoding": {
      "x": {
        "field": "any",
        "type": "quantitative",
        "scale": {"domain": [1997.75, 2016.3], "nice": false, "zero": false},
        "axis": {
          "title": null,
          "values": [1998, 2000, 2002, 2004, 2006, 2008, 2010, 2012, 2014, 2016],
          "format": "d",
          "labelAngle": 270,
          "labelAlign": "right",
          "labelBaseline": "middle",
          "labelPadding": 7,
          "grid": false,
          "ticks": false,
          "domainColor": "#2b2a7b",
          "domainWidth": 2.5
        }
      },
      "y": {
        "field": "pct",
        "type": "quantitative",
        "scale": {"domain": [0, 72], "nice": false},
        "axis": {
          "title": "%",
          "titleAngle": 0,
          "titleAlign": "left",
          "titleBaseline": "alphabetic",
          "titleFontSize": 11.5,
          "titleX": -15,
          "titleY": -8,
          "values": [0, 10, 20, 30, 40, 50, 60, 70],
          "domain": false,
          "ticks": false,
          "labelPadding": 7,
          "gridColor": "#c9c9e1",
          "gridWidth": 1.2
        }
      },
      "color": {
        "field": "grup",
        "type": "nominal",
        "scale": {
          "domain": ["Tots dos treballen", "Només la dona treballa", "Només l’home treballa", "Cap dels dos treballa"],
          "range": ["#179bd7", "#e5097f", "#e87d0e", "#7a1a7f"]
        },
        "legend": {
          "title": ["Nota: parelles heterosexuals amb tots dos membres entre 15 i 64 anys.", "\u200b\u00a0\u00a0\u00a0\u00a0\u00a0\u00a0\u00a0\u00a0\u00a0\u00a0\u00a0\u00a0\u00a0\u00a0\u00a0\u00a0\u00a0\u00a0\u00a0\u00a0\u00a0\u00a0\u00a0\u00a0\u00a0\u00a0\u00a0\u00a0\u00a0\u00a0\u00a0\u00a0\u00a0\u00a0\u00a0\u00a0\u00a0\u00a0\u00a0\u00a0Font: Labour Force Survey, 1998-2016 (Eurostat)."],
          "orient": "none",
          "legendX": -22,
          "legendY": 584,
          "direction": "horizontal",
          "columns": 2,
          "titleOrient": "right",
          "titleAnchor": "start",
          "titlePadding": 63,
          "titleFont": "Roboto",
          "titleFontSize": 12,
          "titleFontWeight": "normal",
          "titleColor": "#2b2a7b",
          "titleLineHeight": 21,
          "titleLimit": 600,
          "symbolType": "square",
          "symbolSize": 110,
          "labelFont": "Roboto",
          "labelFontSize": 13,
          "labelColor": "#333333",
          "labelLimit": 300,
          "columnPadding": 35,
          "rowPadding": 8,
          "encode": {
            "symbols": {"update": {"fill": {"scale": "color", "field": "value"}, "strokeWidth": {"value": 0}}}
          }
        }
      }
    }
  },
  "config": {
    "view": {"stroke": null},
    "font": "Roboto",
    "axis": {
      "labelFont": "Roboto",
      "labelFontSize": 11.5,
      "labelColor": "#222222",
      "titleFont": "Roboto",
      "titleFontSize": 12,
      "titleFontWeight": "normal",
      "titleColor": "#222222"
    }
  }
}
